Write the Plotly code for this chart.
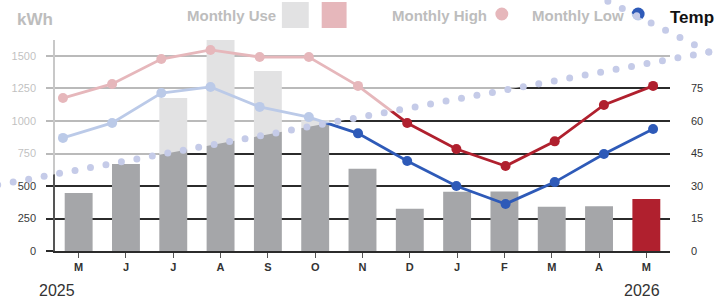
import numpy as np
import plotly.graph_objects as go

# ---------------- data ----------------
months = ["M", "J", "J", "A", "S", "O", "N", "D", "J", "F", "M", "A", "M"]
monthly_use_kwh = [446, 669, 1177, 1640, 1385, 1005, 632, 325, 455, 457, 340, 345, 400]
monthly_high_f = [70.6, 77.1, 88.6, 92.8, 89.5, 89.5, 76.2, 59.1, 47.1, 39.2, 50.6, 67.4, 76.2]
monthly_low_f = [52.2, 59.1, 72.9, 75.7, 66.5, 61.8, 54.3, 41.5, 30.0, 21.7, 31.8, 44.8, 56.3]
kwh_ticks = [0, 250, 500, 750, 1000, 1250, 1500]
temp_ticks = [0, 15, 30, 45, 60, 75]
start_year, end_year = "2025", "2026"

# ---------------- geometry / style ----------------
W, H = 715, 299
ML, MR, MT, MB = 55, 42, 40, 48
PW, PH = W - ML - MR, H - MT - MB
FONT = "Liberation Sans, Arial, sans-serif"
GRAY_BAR = "#a5a6a9"
RED = "#b0202e"
BLUE = "#2e5ab8"
DARK = "#2b2b2b"
FADED_TXT = "#bdbdbd"
KWH_MAX = 1623
TEMP_MAX = KWH_MAX * 15 / 250


def pxx(x):
    return (x - ML) / PW


def pxy(y):
    return (H - MB - y) / PH


idx = list(range(len(months)))
bar_colors = [GRAY_BAR] * (len(months) - 1) + [RED]

fig = go.Figure()
fig.add_trace(go.Bar(x=idx, y=monthly_use_kwh, marker=dict(color=bar_colors, line=dict(width=0)),
                     width=0.59, xaxis="x", yaxis="y", showlegend=False, hoverinfo="y"))
fig.add_trace(go.Scatter(x=idx, y=monthly_high_f, mode="lines+markers", xaxis="x2", yaxis="y2",
                         line=dict(color=RED, width=2.8), marker=dict(size=10, color=RED),
                         showlegend=False, cliponaxis=False))
fig.add_trace(go.Scatter(x=idx, y=monthly_low_f, mode="lines+markers", xaxis="x2", yaxis="y2",
                         line=dict(color=BLUE, width=2.8), marker=dict(size=10, color=BLUE),
                         showlegend=False, cliponaxis=False))

# line x-scale: first point at px 63, last at px 656
step = (656 - 63) / 12
x2_lo = -(63 - ML) / step
x2_hi = 12 + (ML + PW - 656) / step

shapes = []
# legend swatches (drawn before the fade overlay)
shapes.append(dict(type="rect", xref="paper", yref="paper", layer="above",
                   x0=pxx(283), x1=pxx(310), y0=pxy(28), y1=pxy(2), fillcolor=GRAY_BAR, line_width=0))
shapes.append(dict(type="rect", xref="paper", yref="paper", layer="above",
                   x0=pxx(323), x1=pxx(348), y0=pxy(28), y1=pxy(2), fillcolor=RED, line_width=0))
shapes.append(dict(type="circle", xref="paper", yref="paper", layer="above",
                   x0=pxx(497.5), x1=pxx(510.5), y0=pxy(20.5), y1=pxy(7.5), fillcolor=RED, line_width=0))
shapes.append(dict(type="circle", xref="paper", yref="paper", layer="above",
                   x0=pxx(634.5), x1=pxx(647.5), y0=pxy(20.5), y1=pxy(7.5), fillcolor=BLUE, line_width=0))

# fade wedge
vx, vy = 712, 52
up_slope, low_slope = 0.5, 0.186
top_x = vx - vy / up_slope
left_y = vy + low_slope * (vx + 10)
path = (f"M {pxx(vx)},{pxy(vy)} L {pxx(top_x - 10)},{pxy(-5)} L {pxx(-10)},{pxy(-5)} "
        f"L {pxx(-10)},{pxy(left_y)} Z")
shapes.append(dict(type="path", path=path, xref="paper", yref="paper", layer="above",
                   fillcolor="rgba(255,255,255,0.68)", line_width=0))

# dotted boundary lines (decoration)
DOT_C = "#c5cbe8"
r = 3.5
for slope, length, spacing, sign in [(low_slope, 740, 15.8, 1), (up_slope, 125, 16.2, -1)]:
    n = int(length / spacing) + 1
    d = np.sqrt(1 + slope ** 2)
    for i in range(n):
        cx = vx - spacing * i / d
        cy = vy + sign * slope * spacing * i / d
        shapes.append(dict(type="circle", xref="paper", yref="paper", layer="above",
                           x0=pxx(cx - r), x1=pxx(cx + r), y0=pxy(cy + r), y1=pxy(cy - r),
                           fillcolor=DOT_C, line_width=0))

annotations = [
    dict(text="<b>kWh</b>", x=pxx(15), y=pxy(20), xanchor="left", yanchor="middle",
         font=dict(size=17, color=FADED_TXT, family=FONT)),
    dict(text="<b>Monthly Use</b>", x=pxx(186), y=pxy(16), xanchor="left", yanchor="middle",
         font=dict(size=15, color=FADED_TXT, family=FONT)),
    dict(text="<b>Monthly High</b>", x=pxx(392), y=pxy(15), xanchor="left", yanchor="middle",
         font=dict(size=15, color=FADED_TXT, family=FONT)),
    dict(text="<b>Monthly Low</b>", x=pxx(532), y=pxy(15), xanchor="left", yanchor="middle",
         font=dict(size=15, color=FADED_TXT, family=FONT)),
    dict(text="<b>Temp</b>", x=pxx(671), y=pxy(17), xanchor="left", yanchor="middle",
         font=dict(size=17, color="#111111", family=FONT)),
    dict(text=start_year, x=pxx(37), y=pxy(290), xanchor="left", yanchor="middle",
         font=dict(size=16, color="#333333", family=FONT)),
    dict(text=end_year, x=pxx(665), y=pxy(290), xanchor="right", yanchor="middle",
         font=dict(size=16, color="#333333", family=FONT)),
]
for a in annotations:
    a.update(xref="paper", yref="paper", showarrow=False)

fig.update_layout(
    width=W, height=H,
    margin=dict(l=ML, r=MR, t=MT, b=MB),
    paper_bgcolor="white", plot_bgcolor="white",
    font=dict(family=FONT, color="#333333"),
    bargap=0.41,
    xaxis=dict(range=[-0.5, len(months) - 0.5], tickvals=idx, ticktext=[f"<b>{m}</b>" for m in months],
               tickfont=dict(size=11, color="#333333"), ticks="outside", ticklen=5, tickcolor="#555555",
               showgrid=False, showline=True, linecolor=DARK, linewidth=2, zeroline=False, fixedrange=True),
    xaxis2=dict(range=[x2_lo, x2_hi], overlaying="x", anchor="y2", visible=False, fixedrange=True),
    yaxis=dict(range=[0, KWH_MAX], tickvals=kwh_ticks, tickfont=dict(size=11, color="#3a3a3a"),
               showgrid=True, gridcolor=DARK, gridwidth=2, ticks="outside", ticklen=7, tickcolor=DARK,
               tickwidth=2, showline=True, linecolor="#555555", linewidth=1.5, zeroline=False,
               ticklabelstandoff=8, fixedrange=True),
    yaxis2=dict(range=[0, TEMP_MAX], tickvals=temp_ticks, overlaying="y", side="right",
                tickfont=dict(size=11, color="#333333"), showgrid=False, zeroline=False, showline=False,
                ticks="", ticklabelstandoff=20, fixedrange=True),
    shapes=shapes,
    annotations=annotations,
)

fig.write_html("out.html", config={"displayModeBar": False},
               post_script="document.body.style.margin='0';document.body.style.overflow='hidden';")
